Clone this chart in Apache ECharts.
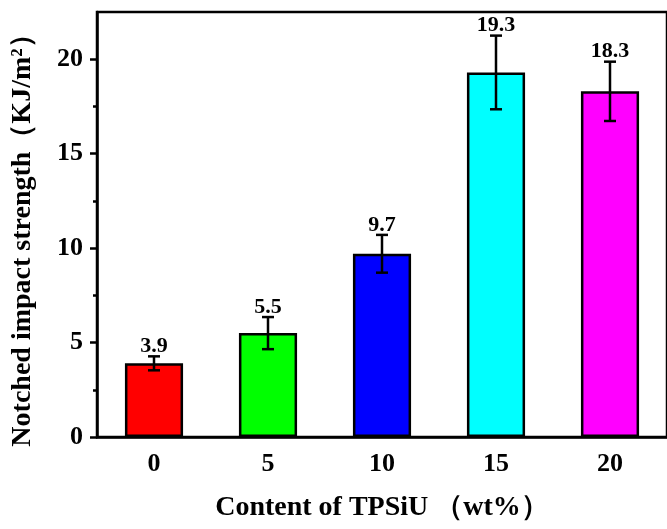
<!DOCTYPE html>
<html>
<head>
<meta charset="utf-8">
<script src="https://cdn.jsdelivr.net/npm/echarts@6/dist/echarts.min.js"></script>
<style>html,body{margin:0;padding:0;background:#fff}#c{width:667px;height:529px}</style>
</head>
<body>
<div id="c"></div>
<script>
const categories = ['0', '5', '10', '15', '20'];
const values = [3.9, 5.5, 9.7, 19.3, 18.3];
const errors = [0.37, 0.85, 1.0, 1.95, 1.57];
const colors = ['#ff0000', '#00ff00', '#0000ff', '#00ffff', '#ff00ff'];
const yMajorTicks = [0, 5, 10, 15, 20];
const yMinorTicks = [2.5, 7.5, 12.5, 17.5];
const xTitle = 'Content of TPSiU （wt%）';
const yTitle = 'Notched impact strength（KJ/m²）';

const FONT = "'Liberation Serif', 'Times New Roman', serif";
const chart = echarts.init(document.getElementById('c'), null, {renderer: 'canvas'});
const errData = values.map((v, i) => [i, v, errors[i]]);

chart.setOption({
  animation: false,
  backgroundColor: '#fff',
  grid: {left: 97, top: 12, width: 577, height: 425, show: true, borderColor: '#000', borderWidth: 2.5, backgroundColor: 'transparent'},
  xAxis: [{
    type: 'category', data: categories, position: 'bottom',
    name: xTitle, nameLocation: 'middle', nameGap: 57,
    nameTextStyle: {fontFamily: FONT, fontWeight: 'bold', fontSize: 28, color: '#000'},
    axisLine: {lineStyle: {color: '#000', width: 2.5}},
    axisTick: {alignWithLabel: true, length: 7, lineStyle: {color: '#000', width: 2.5}},
    axisLabel: {fontFamily: FONT, fontWeight: 'bold', fontSize: 26, color: '#000', margin: 14},
    splitLine: {show: false}
  }, {
    type: 'category', data: categories, position: 'bottom', gridIndex: 0,
    axisLine: {show: false},
    axisTick: {alignWithLabel: false, length: 4, lineStyle: {color: '#000', width: 2.5}},
    axisLabel: {show: false}, splitLine: {show: false}
  }],
  yAxis: [{
    type: 'value', min: 0, max: 22.5, position: 'left',
    name: yTitle, nameLocation: 'middle', nameGap: 60, nameRotate: 90,
    nameTextStyle: {fontFamily: FONT, fontWeight: 'bold', fontSize: 28, color: '#000', padding: [0, 18, 0, 0]},
    axisLine: {show: true, lineStyle: {color: '#000', width: 2.5}},
    axisTick: {show: true, length: 7, customValues: yMajorTicks, lineStyle: {color: '#000', width: 2.5}},
    axisLabel: {customValues: yMajorTicks, fontFamily: FONT, fontWeight: 'bold', fontSize: 26, color: '#000', margin: 14},
    splitLine: {show: false}
  }, {
    type: 'value', min: 0, max: 22.5, position: 'left',
    axisLine: {show: false},
    axisTick: {show: true, length: 4, customValues: yMinorTicks, lineStyle: {color: '#000', width: 2.5}},
    axisLabel: {show: false}, splitLine: {show: false}
  }],
  series: [{
    type: 'bar', xAxisIndex: 0, yAxisIndex: 0,
    data: values.map((v, i) => ({value: v, itemStyle: {color: colors[i]}})),
    barWidth: '51%',
    itemStyle: {borderColor: '#000', borderWidth: 2.5}
  }, {
    type: 'custom', xAxisIndex: 0, yAxisIndex: 0, z: 5,
    data: errData,
    renderItem: function (params, api) {
      const i = api.value(0), v = api.value(1), e = api.value(2);
      const top = api.coord([i, v + e]);
      const bot = api.coord([i, v - e]);
      const hw = 6;
      const st = {stroke: '#000', lineWidth: 2.5};
      return {type: 'group', children: [
        {type: 'line', shape: {x1: top[0], y1: top[1], x2: bot[0], y2: bot[1]}, style: st},
        {type: 'line', shape: {x1: top[0] - hw, y1: top[1], x2: top[0] + hw, y2: top[1]}, style: st},
        {type: 'line', shape: {x1: bot[0] - hw, y1: bot[1], x2: bot[0] + hw, y2: bot[1]}, style: st},
        {type: 'text', x: top[0], y: top[1] + 1, style: {text: String(v), textAlign: 'center', textVerticalAlign: 'bottom', fontFamily: FONT, fontWeight: 'bold', fontSize: 22, fill: '#000'}}
      ]};
    }
  }]
});
</script>
</body>
</html>
